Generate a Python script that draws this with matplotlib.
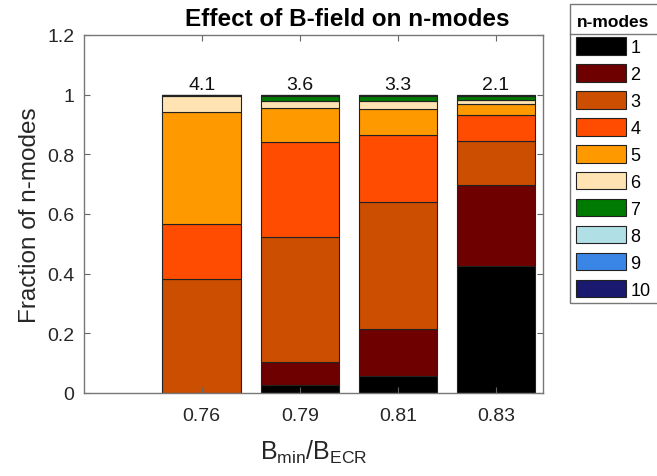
import matplotlib
matplotlib.use("Agg")
import matplotlib.pyplot as plt
import numpy as np
from matplotlib.lines import Line2D
from matplotlib.patches import Rectangle

plt.rcParams['font.family'] = ['Liberation Sans', 'DejaVu Sans']

categories = ['0.76', '0.79', '0.81', '0.83']
mode_labels = ['1', '2', '3', '4', '5', '6', '7', '8', '9', '10']
# fraction of each n-mode per B-field setting (one list per mode, values per category)
mode1 = [0.000, 0.027, 0.058, 0.425]
mode2 = [0.000, 0.076, 0.157, 0.272]
mode3 = [0.382, 0.419, 0.424, 0.147]
mode4 = [0.185, 0.318, 0.226, 0.089]
mode5 = [0.376, 0.114, 0.087, 0.036]
mode6 = [0.052, 0.024, 0.028, 0.012]
mode7 = [0.005, 0.018, 0.016, 0.013]
mode8 = [0.000, 0.002, 0.002, 0.003]
mode9 = [0.000, 0.001, 0.001, 0.002]
mode10 = [0.000, 0.001, 0.001, 0.001]
mean_labels = ['4.1', '3.6', '3.3', '2.1']

colors = ['#000000', '#6e0000', '#cc4e00', '#ff4c00', '#ff9900',
          '#ffe3b3', '#007a00', '#b0e0e6', '#3a86e6', '#191970']

modes = [mode1, mode2, mode3, mode4, mode5, mode6, mode7, mode8, mode9, mode10]

fig = plt.figure(figsize=(6.57, 4.77), dpi=100)
ax = fig.add_axes([84/657, 1-394/477, (543-84)/657, (394-36)/477])

x = np.arange(1, len(categories) + 1)
bottom = np.zeros(len(categories))
handles = []
for vals, c, lab in zip(modes, colors, mode_labels):
    v = np.array(vals)
    b = ax.bar(x, v, width=0.8, bottom=bottom, color=c, edgecolor='#222222',
               linewidth=0.8, label=lab)
    handles.append(b)
    bottom += v

for xi, top, lab in zip(x, bottom, mean_labels):
    ax.text(xi, top + 0.006, lab, ha='center', va='bottom', fontsize=14, color='#111111')

ax.set_xlim(-0.2, 4.48)
ax.set_ylim(0, 1.2)
ax.set_xticks(x)
ax.set_xticklabels(categories)
ax.set_yticks([0, 0.2, 0.4, 0.6, 0.8, 1.0, 1.2])
ax.set_yticklabels(['0', '0.2', '0.4', '0.6', '0.8', '1', '1.2'])
ax.tick_params(direction='in', top=True, right=True, length=4, width=0.8,
               color='#666666', labelsize=14, labelcolor='#262626')
ax.tick_params(axis='x', pad=10)
ax.tick_params(axis='y', pad=7)
for s in ax.spines.values():
    s.set_color('#777777')
    s.set_linewidth(1.0)

ax.set_title('Effect of B-field on n-modes', fontsize=17.5, fontweight='bold', pad=7)
ax.title.set_x((347 - 84) / 459)
ax.set_ylabel('Fraction of n-modes', fontsize=17.5, color='#262626', labelpad=4)
ax.set_xlabel(r'B$_{\mathregular{min}}$/B$_{\mathregular{ECR}}$', fontsize=18,
              color='#262626', labelpad=10)

leg = fig.legend(handles=handles, labels=mode_labels, loc='upper left',
                 bbox_to_anchor=(570/657, 1-9/477), title='n-modes',
                 fontsize=13, title_fontproperties={'weight': 'bold', 'size': 12.5},
                 handlelength=2.75, handleheight=1.1, labelspacing=0.45,
                 handletextpad=0.25, borderpad=0.35, borderaxespad=0,
                 frameon=True, fancybox=False)
leg.get_frame().set_linewidth(0)
leg.get_frame().set_alpha(0)
fig.add_artist(Rectangle((570/657, 1-304/477), 0.3, 299/477, transform=fig.transFigure,
                         facecolor='white', edgecolor='#777777', lw=1.0, zorder=4))
fig.add_artist(Line2D([570/657, 1.0], [1-35/477, 1-35/477], color='#777777', lw=1.0, zorder=6))

fig.savefig('out.png', dpi=100)
